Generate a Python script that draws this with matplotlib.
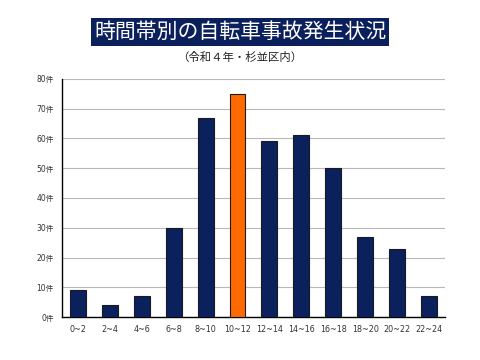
import matplotlib
matplotlib.use("Agg")
import matplotlib.pyplot as plt

categories = ["0~2", "2~4", "4~6", "6~8", "8~10", "10~12", "12~14", "14~16", "16~18", "18~20", "20~22", "22~24"]
values = [9, 4, 7, 30, 67, 75, 59, 61, 50, 27, 23, 7]
highlight = "10~12"
yticks = [0, 10, 20, 30, 40, 50, 60, 70, 80]
ytick_labels = [f"{v}件" for v in yticks]
title = "時間帯別の自転車事故発生状況"
subtitle = "（令和４年・杉並区内）"

plt.rcParams['font.family'] = ['DejaVu Sans', 'Noto Sans CJK JP']

fig = plt.figure(figsize=(4.8, 3.6), dpi=100)
ax = fig.add_axes([0.129, 0.119, 0.798, 0.662])

navy = "#0b215e"
orange = "#ff6a00"
colors = [orange if c == highlight else navy for c in categories]
x = list(range(len(categories)))
ax.bar(x, values, width=0.5, color=colors, edgecolor="#1a1a1a", linewidth=0.8, zorder=3)

ax.set_xlim(-0.5, len(categories) - 0.5)
ax.set_ylim(0, 80)
ax.set_yticks(yticks)
ax.set_yticklabels(ytick_labels, fontsize=5.5, color="#333333")
ax.set_xticks(x)
ax.set_xticklabels(categories, fontsize=5.8, color="#333333")
ax.tick_params(axis='both', length=0, pad=6)
ax.grid(axis='y', color="#b8b8b8", linewidth=0.8, zorder=0)
for s in ['top', 'right']:
    ax.spines[s].set_visible(False)
ax.spines['left'].set_color('black')
ax.spines['bottom'].set_color('black')
ax.spines['left'].set_linewidth(1.0)
ax.spines['bottom'].set_linewidth(1.0)

fig.text(0.5, 0.912, title, ha='center', va='center', fontsize=15, color='white',
         family=['Noto Sans CJK JP', 'DejaVu Sans'],
         bbox=dict(boxstyle='square,pad=0.14', facecolor='#0a1f5c', edgecolor='none'))
fig.text(0.5, 0.840, subtitle, ha='center', va='center', fontsize=8.2, color='#222222',
         family=['Noto Sans CJK JP', 'DejaVu Sans'])

fig.savefig("out.png", dpi=100)
